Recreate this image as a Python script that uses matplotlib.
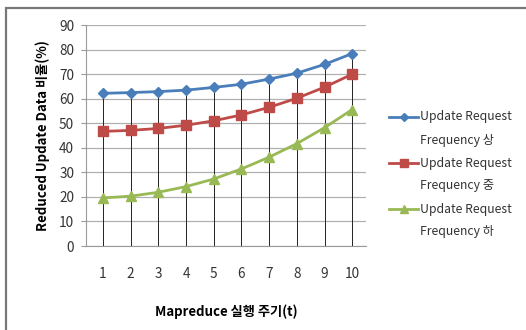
import numpy as np
import matplotlib.pyplot as plt
from matplotlib.lines import Line2D

plt.rcParams['font.family'] = ['Noto Sans CJK KR', 'DejaVu Sans']

cycles = [1, 2, 3, 4, 5, 6, 7, 8, 9, 10]
freq_high = [62.2, 62.5, 62.9, 63.5, 64.6, 65.9, 68.0, 70.4, 74.0, 78.4]
freq_mid = [46.7, 47.1, 47.9, 49.2, 51.0, 53.4, 56.5, 60.2, 64.7, 70.0]
freq_low = [19.6, 20.3, 21.9, 24.2, 27.3, 31.4, 36.2, 41.7, 48.2, 55.6]
labels = ['Update Request', 'Frequency 상', 'Update Request', 'Frequency 중',
          'Update Request', 'Frequency 하']

W, H = 526, 330
fig = plt.figure(figsize=(W / 100, H / 100), dpi=100)
ax = fig.add_axes([0.1635, 0.2545, 0.5325, 0.6695])

# drop lines from the x axis up to the highest series
top = np.max([freq_high, freq_mid, freq_low], axis=0)
ax.vlines(cycles, 0, top, color='#222222', lw=0.7, zorder=2)

styles = [('#4A7EBB', 'D', 5.5), ('#BE4B48', 's', 7.5), ('#98B954', '^', 7.5)]
for ys, (c, m, s) in zip([freq_high, freq_mid, freq_low], styles):
    ax.plot(cycles, ys, color=c, lw=2.0, marker=m, ms=s, zorder=3)

ax.set_xlim(0.39, 10.5)
ax.set_ylim(0, 90)
ax.set_yticks(range(0, 91, 10))
ax.set_xticks(cycles)
ax.grid(axis='y', color='#b0b0b0', lw=0.9, zorder=0)
ax.set_axisbelow(True)
for s in ['top', 'right']:
    ax.spines[s].set_visible(False)
ax.spines['left'].set_color('#9a9a9a')
ax.spines['bottom'].set_color('#9a9a9a')
ax.tick_params(axis='y', length=3.5, color='#9a9a9a', labelsize=9.8, pad=5, labelcolor='#333333')
ax.tick_params(axis='x', length=0, labelsize=9.8, pad=15, labelcolor='#333333')

ax.set_ylabel('Reduced Update Data 비율(%)', fontsize=9.5, fontweight='bold')
ax.yaxis.set_label_coords(-0.129, 0.5)
ax.set_xlabel('Mapreduce 실행 주기(t)', fontsize=9.5, fontweight='bold', labelpad=17)

# legend drawn by hand so the two-line entries get even spacing
for i, (c, m, s) in enumerate(styles):
    y = 1 - (117 + 46 * i) / H
    fig.add_artist(Line2D([389 / W, 418 / W], [y, y], color=c, lw=2.0,
                          transform=fig.transFigure))
    fig.add_artist(Line2D([403.5 / W], [y], color=c, marker=m, ms=s - 1.5,
                          transform=fig.transFigure))
    for j in range(2):
        fig.text(420 / W, 1 - (117 + 46 * i + 23 * j) / H, labels[2 * i + j],
                 fontsize=8.8, color='#333333', va='center', ha='left')

# outer chart frame
fig.add_artist(plt.Rectangle((6 / W, -0.05), 1.1, 1 - 8 / H + 0.05,
                             transform=fig.transFigure, fill=False,
                             ec='#777777', lw=1.6))

fig.savefig('out.png', dpi=100)
